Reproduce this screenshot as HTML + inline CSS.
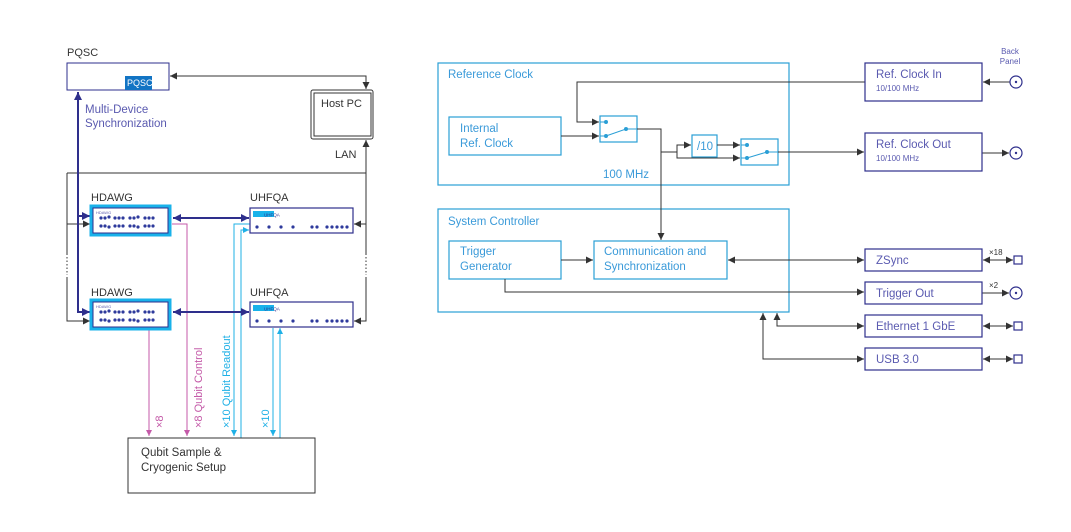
<!DOCTYPE html>
<html><head><meta charset="utf-8"><style>
html,body{margin:0;padding:0;background:#fff;}
svg{display:block;font-family:"Liberation Sans",sans-serif;}
</style></head><body>
<svg width="1071" height="532" viewBox="0 0 1071 532" xmlns="http://www.w3.org/2000/svg">
<defs>
<marker id="ag" markerWidth="8" markerHeight="8" refX="7" refY="4" orient="auto" markerUnits="userSpaceOnUse"><path d="M0,0.5 L7,4 L0,7.5z" fill="#333"/></marker>
<marker id="ags" markerWidth="8" markerHeight="8" refX="1" refY="4" orient="auto" markerUnits="userSpaceOnUse"><path d="M8,0.5 L1,4 L8,7.5z" fill="#333"/></marker>
<marker id="an" markerWidth="9" markerHeight="9" refX="8" refY="4.5" orient="auto" markerUnits="userSpaceOnUse"><path d="M0,0.5 L8,4.5 L0,8.5z" fill="#2e2f8c"/></marker>
<marker id="ans" markerWidth="9" markerHeight="9" refX="1" refY="4.5" orient="auto" markerUnits="userSpaceOnUse"><path d="M9,0.5 L1,4.5 L9,8.5z" fill="#2e2f8c"/></marker>
<marker id="ap" markerWidth="7" markerHeight="7" refX="6" refY="3.5" orient="auto" markerUnits="userSpaceOnUse"><path d="M0,0.5 L6,3.5 L0,6.5z" fill="#c45aa8"/></marker>
<marker id="ac" markerWidth="7" markerHeight="7" refX="6" refY="3.5" orient="auto" markerUnits="userSpaceOnUse"><path d="M0,0.5 L6,3.5 L0,6.5z" fill="#1fb0e6"/></marker>
<g id="hd">
<rect x="0" y="0" width="79" height="29" fill="#fff" stroke="#19b2ea" stroke-width="3"/>
<rect x="2" y="2" width="75" height="25" fill="#fff" stroke="#2e2f8c" stroke-width="1"/>
<text x="5" y="8" font-size="4" fill="#6060b0">HDAWG</text>
<g fill="#2e3a9c">
<circle cx="10" cy="12" r="1.6"/><circle cx="14" cy="12" r="1.6"/><circle cx="18" cy="11" r="1.6"/><circle cx="24" cy="12" r="1.6"/><circle cx="28" cy="12" r="1.6"/><circle cx="32" cy="12" r="1.6"/><circle cx="39" cy="12" r="1.6"/><circle cx="43" cy="12" r="1.6"/><circle cx="47" cy="11" r="1.6"/><circle cx="54" cy="12" r="1.6"/><circle cx="58" cy="12" r="1.6"/><circle cx="62" cy="12" r="1.6"/>
<circle cx="10" cy="20" r="1.6"/><circle cx="14" cy="20" r="1.6"/><circle cx="18" cy="21" r="1.6"/><circle cx="24" cy="20" r="1.6"/><circle cx="28" cy="20" r="1.6"/><circle cx="32" cy="20" r="1.6"/><circle cx="39" cy="20" r="1.6"/><circle cx="43" cy="20" r="1.6"/><circle cx="47" cy="21" r="1.6"/><circle cx="54" cy="20" r="1.6"/><circle cx="58" cy="20" r="1.6"/><circle cx="62" cy="20" r="1.6"/>
</g></g>
<g id="uq">
<rect x="0" y="0" width="103" height="25" fill="#fff" stroke="#2e2f8c" stroke-width="1.2"/>
<rect x="3" y="3" width="21" height="6" fill="#19b2ea"/>
<text x="14" y="8.5" font-size="4.5" fill="#2e2f8c">UHFQA</text>
<g fill="#2e3a9c"><circle cx="7" cy="19" r="1.6"/><circle cx="19" cy="19" r="1.6"/><circle cx="31" cy="19" r="1.6"/><circle cx="43" cy="19" r="1.6"/><circle cx="62" cy="19" r="1.6"/><circle cx="67" cy="19" r="1.6"/><circle cx="77" cy="19" r="1.6"/><circle cx="82" cy="19" r="1.6"/><circle cx="87" cy="19" r="1.6"/><circle cx="92" cy="19" r="1.6"/><circle cx="97" cy="19" r="1.6"/></g>
</g>
</defs>

<!-- LEFT -->
<text x="67" y="56" font-size="11" fill="#333">PQSC</text>
<rect x="67" y="63" width="102" height="27" fill="#fff" stroke="#2e2f8c" stroke-width="1"/>
<rect x="125" y="76" width="27" height="14" fill="#1274c4"/>
<text x="127" y="86" font-size="9" fill="#fff">PQSC</text>
<path d="M170,76 H366 V89" fill="none" stroke="#333" stroke-width="1" marker-start="url(#ags)" marker-end="url(#ag)"/>
<rect x="311" y="90" width="62" height="49" rx="2" fill="#fff" stroke="#333" stroke-width="1"/>
<rect x="314" y="93" width="57" height="43" fill="#fff" stroke="#333" stroke-width="1"/>
<text x="321" y="107" font-size="11" fill="#333">Host PC</text>
<text x="335" y="158" font-size="11" fill="#333">LAN</text>
<path d="M366,173 V140" fill="none" stroke="#333" stroke-width="1" marker-end="url(#ag)"/>
<path d="M67,173 H366" fill="none" stroke="#333" stroke-width="1"/>
<path d="M67,173 V255 M67,277 V321 H91" fill="none" stroke="#333" stroke-width="1"/>
<path d="M67,257 V275" stroke="#333" stroke-dasharray="1.5,2"/>
<path d="M67,224 H90" stroke="#333" marker-end="url(#ag)"/>
<path d="M67,321 H90" stroke="#333" marker-end="url(#ag)"/>
<path d="M366,173 V255 M366,277 V321 H354" fill="none" stroke="#333" stroke-width="1" marker-end="url(#ag)"/>
<path d="M366,257 V275" stroke="#333" stroke-dasharray="1.5,2"/>
<path d="M366,224 H354" stroke="#333" marker-end="url(#ag)"/>
<!-- navy sync -->
<path d="M78,313 V257 M78,275 V92" fill="none" stroke="#2e2f8c" stroke-width="2" marker-end="url(#an)"/>
<path d="M78,257 V275" stroke="#2e2f8c" stroke-width="2" stroke-dasharray="2,2"/>
<path d="M78,216 H90" stroke="#2e2f8c" stroke-width="2" marker-end="url(#an)"/>
<path d="M78,312 H90" stroke="#2e2f8c" stroke-width="2" marker-end="url(#an)"/>
<text x="85" y="113" font-size="11.5" fill="#5a5ab0">Multi-Device</text>
<text x="85" y="127" font-size="11.5" fill="#5a5ab0">Synchronization</text>
<!-- devices -->
<text x="91" y="201" font-size="11" fill="#333">HDAWG</text>
<text x="250" y="201" font-size="11" fill="#333">UHFQA</text>
<text x="91" y="296" font-size="11" fill="#333">HDAWG</text>
<text x="250" y="296" font-size="11" fill="#333">UHFQA</text>
<!-- pink -->
<path d="M172,224 H187 V436" fill="none" stroke="#c45aa8" stroke-width="1" marker-end="url(#ap)"/>
<path d="M149,330 V436" fill="none" stroke="#c45aa8" stroke-width="1" marker-end="url(#ap)"/>
<!-- cyan -->
<path d="M250,224 H234 V436" fill="none" stroke="#1fb0e6" stroke-width="1" marker-end="url(#ac)"/>
<path d="M241,438 V230 H249" fill="none" stroke="#1fb0e6" stroke-width="1" marker-end="url(#ac)"/>
<path d="M273,328 V436" fill="none" stroke="#1fb0e6" stroke-width="1" marker-end="url(#ac)"/>
<path d="M280,438 V328" fill="none" stroke="#1fb0e6" stroke-width="1" marker-end="url(#ac)"/>
<use href="#hd" x="91" y="206"/>
<use href="#hd" x="91" y="300"/>
<use href="#uq" x="250" y="208"/>
<use href="#uq" x="250" y="302"/>
<path d="M173,218 H249" stroke="#2e2f8c" stroke-width="2" marker-start="url(#ans)" marker-end="url(#an)"/>
<path d="M173,312 H249" stroke="#2e2f8c" stroke-width="2" marker-start="url(#ans)" marker-end="url(#an)"/>
<g font-size="11">
<text transform="translate(163,428) rotate(-90)" fill="#c45aa8">×8</text>
<text transform="translate(202,428) rotate(-90)" fill="#c45aa8">×8 Qubit Control</text>
<text transform="translate(230,428) rotate(-90)" fill="#1fb0e6">×10 Qubit Readout</text>
<text transform="translate(269,428) rotate(-90)" fill="#1fb0e6">×10</text>
</g>
<rect x="128" y="438" width="187" height="55" fill="#fff" stroke="#333" stroke-width="1"/>
<text x="141" y="456" font-size="11.5" fill="#333">Qubit Sample &amp;</text>
<text x="141" y="471" font-size="11.5" fill="#333">Cryogenic Setup</text>

<!-- RIGHT -->
<g fill="none" stroke="#2a9fd6" stroke-width="1.2">
<rect x="438" y="63" width="351" height="122"/>
<rect x="449" y="117" width="112" height="38"/>
<rect x="600" y="116" width="37" height="26"/>
<rect x="692" y="135" width="25" height="22"/>
<rect x="741" y="139" width="37" height="26"/>
<rect x="438" y="209" width="351" height="103"/>
<rect x="449" y="241" width="112" height="38"/>
<rect x="594" y="241" width="133" height="38"/>
</g>
<g font-size="11.5" fill="#3a9ad9">
<text x="448" y="78">Reference Clock</text>
<text x="460" y="132">Internal</text>
<text x="460" y="147">Ref. Clock</text>
<text x="697" y="150">/10</text>
<text x="603" y="178">100 MHz</text>
<text x="448" y="225">System Controller</text>
<text x="460" y="255">Trigger</text>
<text x="460" y="270">Generator</text>
<text x="604" y="255">Communication and</text>
<text x="604" y="270">Synchronization</text>
</g>
<!-- switch internals -->
<g stroke="#2a9fd6" stroke-width="1" fill="#2a9fd6">
<path d="M600,122 H606 M600,136 H606 L626,129 H637" fill="none"/>
<circle cx="606" cy="122" r="1.5"/><circle cx="606" cy="136" r="1.5"/><circle cx="626" cy="129" r="1.5"/>
<path d="M741,145 H747 M741,158 H747 L767,152 H778" fill="none"/>
<circle cx="747" cy="145" r="1.5"/><circle cx="747" cy="158" r="1.5"/><circle cx="767" cy="152" r="1.5"/>
</g>
<g fill="none" stroke="#333" stroke-width="1">
<path d="M865,82 H577 V122 H599" marker-end="url(#ag)"/>
<path d="M561,136 H599" marker-end="url(#ag)"/>
<path d="M637,129 H661 V240" marker-end="url(#ag)"/>
<path d="M661,152 H677 V145 H691" marker-end="url(#ag)"/>
<path d="M677,152 V158 H740" marker-end="url(#ag)"/>
<path d="M717,145 H740" marker-end="url(#ag)"/>
<path d="M778,152 H864" marker-end="url(#ag)"/>
<path d="M561,260 H593" marker-end="url(#ag)"/>
<path d="M728,260 H864" marker-start="url(#ags)" marker-end="url(#ag)"/>
<path d="M505,279 V292 H864" marker-end="url(#ag)"/>
<path d="M777,313 V326 H864" marker-start="url(#ags)" marker-end="url(#ag)"/>
<path d="M763,313 V359 H864" marker-start="url(#ags)" marker-end="url(#ag)"/>
<path d="M1010,82 H983" marker-end="url(#ag)"/>
<path d="M982,153 H1009" marker-end="url(#ag)"/>
<path d="M983,260 H1013" marker-start="url(#ags)" marker-end="url(#ag)"/>
<path d="M982,293 H1009" marker-end="url(#ag)"/>
<path d="M983,326 H1013" marker-start="url(#ags)" marker-end="url(#ag)"/>
<path d="M983,359 H1013" marker-start="url(#ags)" marker-end="url(#ag)"/>
</g>
<g fill="#fff" stroke="#2e2f8c" stroke-width="1.2">
<rect x="865" y="63" width="117" height="38"/>
<rect x="865" y="133" width="117" height="38"/>
<rect x="865" y="249" width="117" height="22"/>
<rect x="865" y="282" width="117" height="22"/>
<rect x="865" y="315" width="117" height="22"/>
<rect x="865" y="348" width="117" height="22"/>
<circle cx="1016" cy="82" r="6"/>
<circle cx="1016" cy="153" r="6"/>
<circle cx="1016" cy="293" r="6"/>
<rect x="1014" y="256" width="8" height="8"/>
<rect x="1014" y="322" width="8" height="8"/>
<rect x="1014" y="355" width="8" height="8"/>
</g>
<g fill="#2e2f8c"><circle cx="1016" cy="82" r="1.2"/><circle cx="1016" cy="153" r="1.2"/><circle cx="1016" cy="293" r="1.2"/></g>
<g fill="#5a5ab0">
<text x="876" y="78" font-size="11.5">Ref. Clock In</text>
<text x="876" y="91" font-size="8">10/100 MHz</text>
<text x="876" y="148" font-size="11.5">Ref. Clock Out</text>
<text x="876" y="161" font-size="8">10/100 MHz</text>
<text x="876" y="264" font-size="11.5">ZSync</text>
<text x="876" y="297" font-size="11.5">Trigger Out</text>
<text x="876" y="330" font-size="11.5">Ethernet 1 GbE</text>
<text x="876" y="363" font-size="11.5">USB 3.0</text>
<text x="1010" y="54" font-size="8" text-anchor="middle">Back</text>
<text x="1010" y="64" font-size="8" text-anchor="middle">Panel</text>
</g>
<text x="989" y="255" font-size="8" fill="#333">×18</text>
<text x="989" y="288" font-size="8" fill="#333">×2</text>
</svg>
</body></html>
